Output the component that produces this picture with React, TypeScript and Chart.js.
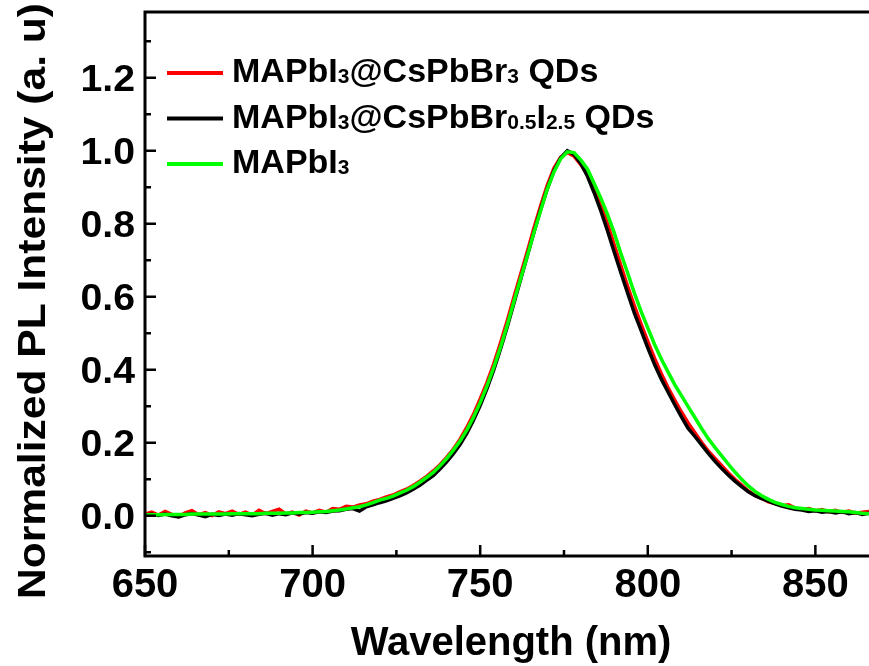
import React, { useEffect, useRef } from "react";
import { Chart, registerables } from "chart.js";

Chart.register(...registerables);

// ---------- data ----------
const wavelengths = [
  650, 652, 654, 656, 658, 660, 662, 664, 666, 668,
  670, 672, 674, 676, 678, 680, 682, 684, 686, 688,
  690, 692, 694, 696, 698, 700, 702, 704, 706, 708,
  710, 712, 714, 716, 718, 720, 722, 724, 726, 728,
  730, 732, 734, 736, 738, 740, 742, 744, 746, 748,
  750, 752, 754, 756, 758, 760, 762, 764, 766, 768,
  770, 772, 774, 776, 778, 780, 782, 784, 786, 788,
  790, 792, 794, 796, 798, 800, 802, 804, 806, 808,
  810, 812, 814, 816, 818, 820, 822, 824, 826, 828,
  830, 832, 834, 836, 838, 840, 842, 844, 846, 848,
  850, 852, 854, 856, 858, 860, 862, 864, 866,
];

const redValues = [
  0.005, 0.010, 0.002, 0.012, 0.004, -0.002, 0.008, 0.014, 0.003, 0.009,
  0.001, 0.011, 0.006, 0.013, 0.004, 0.010, 0.002, 0.015, 0.006, 0.012,
  0.018, 0.005, 0.010, 0.002, 0.013, 0.008, 0.015, 0.010, 0.020, 0.018,
  0.026, 0.024, 0.030, 0.033, 0.040, 0.045, 0.052, 0.057, 0.066, 0.073,
  0.083, 0.095, 0.108, 0.123, 0.140, 0.160, 0.183, 0.210, 0.242, 0.278,
  0.320, 0.365, 0.415, 0.472, 0.532, 0.597, 0.660, 0.722, 0.787, 0.848,
  0.905, 0.952, 0.982, 0.995, 0.985, 0.962, 0.935, 0.895, 0.850, 0.800,
  0.742, 0.685, 0.628, 0.575, 0.525, 0.478, 0.432, 0.390, 0.352, 0.318,
  0.285, 0.255, 0.228, 0.202, 0.178, 0.158, 0.138, 0.118, 0.100, 0.084,
  0.068, 0.056, 0.048, 0.038, 0.034, 0.028, 0.030, 0.021, 0.018, 0.020,
  0.014, 0.017, 0.011, 0.015, 0.009, 0.013, 0.007, 0.010, 0.012,
];

const blackValues = [
  0.002, 0.004, 0.001, 0.005, 0.000, -0.003, 0.003, 0.006, 0.002, -0.002,
  0.004, 0.001, 0.005, 0.002, 0.006, 0.003, 0.000, 0.004, 0.007, 0.002,
  0.006, 0.003, 0.008, 0.005, 0.009, 0.007, 0.011, 0.009, 0.013, 0.014,
  0.018, 0.020, 0.013, 0.025, 0.030, 0.036, 0.041, 0.048, 0.055, 0.063,
  0.073, 0.084, 0.097, 0.110, 0.128, 0.148, 0.170, 0.195, 0.226, 0.262,
  0.302, 0.348, 0.398, 0.455, 0.515, 0.580, 0.645, 0.710, 0.775, 0.838,
  0.895, 0.945, 0.980, 1.000, 0.990, 0.965, 0.930, 0.885, 0.835, 0.780,
  0.722, 0.665, 0.610, 0.555, 0.508, 0.460, 0.415, 0.375, 0.340, 0.305,
  0.272, 0.240, 0.218, 0.195, 0.172, 0.150, 0.130, 0.112, 0.095, 0.080,
  0.066, 0.055, 0.047, 0.040, 0.033, 0.027, 0.022, 0.018, 0.016, 0.012,
  0.014, 0.010, 0.012, 0.008, 0.011, 0.006, 0.009, 0.004, 0.007,
];

const greenValues = [
  0.003, 0.003, 0.003, 0.004, 0.004, 0.004, 0.004, 0.005, 0.005, 0.005,
  0.005, 0.005, 0.005, 0.006, 0.006, 0.006, 0.006, 0.006, 0.007, 0.007,
  0.007, 0.008, 0.008, 0.009, 0.009, 0.010, 0.011, 0.012, 0.014, 0.016,
  0.019, 0.022, 0.025, 0.030, 0.036, 0.043, 0.048, 0.054, 0.062, 0.070,
  0.080, 0.092, 0.105, 0.119, 0.137, 0.157, 0.180, 0.205, 0.235, 0.270,
  0.310, 0.355, 0.405, 0.460, 0.520, 0.585, 0.648, 0.710, 0.775, 0.835,
  0.895, 0.942, 0.978, 0.997, 0.995, 0.975, 0.950, 0.910, 0.870, 0.825,
  0.775, 0.718, 0.665, 0.610, 0.560, 0.515, 0.470, 0.430, 0.395, 0.360,
  0.330, 0.300, 0.270, 0.240, 0.212, 0.188, 0.165, 0.142, 0.120, 0.100,
  0.082, 0.067, 0.055, 0.045, 0.037, 0.031, 0.026, 0.022, 0.020, 0.018,
  0.016, 0.015, 0.014, 0.013, 0.012, 0.011, 0.009, 0.007, 0.006,
];

const xTickLabels = [650, 700, 750, 800, 850];
const xMinorTicks = [675, 725, 775, 825];
const yTickLabels = [0.0, 0.2, 0.4, 0.6, 0.8, 1.0, 1.2];
const yMinorTicks = [-0.1, 0.1, 0.3, 0.5, 0.7, 0.9, 1.1, 1.3];

const xTitle = "Wavelength (nm)";
const yTitle = "Normalized PL Intensity (a. u)";

// legend text pieces: [text, isSubscript]
const legendRed: [string, boolean][] = [["MAPbI", false], ["3", true], ["@CsPbBr", false], ["3", true], [" QDs", false]];
const legendBlack: [string, boolean][] = [["MAPbI", false], ["3", true], ["@CsPbBr", false], ["0.5", true], ["I", false], ["2.5", true], [" QDs", false]];
const legendGreen: [string, boolean][] = [["MAPbI", false], ["3", true]];

const RED = "#ff0000";
const BLACK = "#000000";
const GREEN = "#00ff00";

const FONT = '"Liberation Sans", Arial, Helvetica, sans-serif';

const legendItems = [
  { color: RED, parts: legendRed },
  { color: BLACK, parts: legendBlack },
  { color: GREEN, parts: legendGreen },
];

const decorPlugin = {
  id: "decor",
  afterDatasetsDraw(chart: any) {
    const { ctx, chartArea, scales } = chart;
    const { left, top, right, bottom } = chartArea;
    const xs = scales.x;
    const ys = scales.y;
    ctx.save();
    ctx.strokeStyle = "#000";
    ctx.fillStyle = "#000";
    ctx.lineWidth = 3;
    ctx.lineCap = "butt";

    // frame (left, top, bottom)
    ctx.beginPath();
    ctx.moveTo(right + 2, top);
    ctx.lineTo(left, top);
    ctx.lineTo(left, bottom);
    ctx.lineTo(right + 2, bottom);
    ctx.stroke();

    // ticks
    ctx.lineWidth = 2.5;
    ctx.beginPath();
    xTickLabels.forEach((v) => {
      const px = xs.getPixelForValue(v);
      ctx.moveTo(px, bottom);
      ctx.lineTo(px, bottom - 11);
    });
    xMinorTicks.forEach((v) => {
      const px = xs.getPixelForValue(v);
      ctx.moveTo(px, bottom);
      ctx.lineTo(px, bottom - 6);
    });
    yTickLabels.forEach((v) => {
      const py = ys.getPixelForValue(v);
      ctx.moveTo(left, py);
      ctx.lineTo(left + 11, py);
    });
    yMinorTicks.forEach((v) => {
      const py = ys.getPixelForValue(v);
      ctx.moveTo(left, py);
      ctx.lineTo(left + 6, py);
    });
    ctx.stroke();

    // tick labels
    ctx.font = `bold 40px ${FONT}`;
    ctx.textAlign = "center";
    ctx.textBaseline = "alphabetic";
    xTickLabels.forEach((v) => {
      const px = xs.getPixelForValue(v);
      ctx.fillText(String(v), px, bottom + 41);
    });
    ctx.font = `bold 37px ${FONT}`;
    ctx.textAlign = "right";
    yTickLabels.forEach((v) => {
      const py = ys.getPixelForValue(v);
      ctx.save();
      ctx.translate(left - 10, py + 13);
      ctx.scale(1.06, 1);
      ctx.fillText(v.toFixed(1), 0, 0);
      ctx.restore();
    });

    // axis titles
    ctx.font = `bold 40px ${FONT}`;
    ctx.textAlign = "center";
    ctx.fillText(xTitle, 511, 655);
    ctx.save();
    ctx.translate(45, 301);
    ctx.rotate(-Math.PI / 2);
    ctx.scale(1.12, 1);
    ctx.font = `bold 38px ${FONT}`;
    ctx.textAlign = "center";
    ctx.fillText(yTitle, 0, 0);
    ctx.restore();

    // legend
    legendItems.forEach((item, i) => {
      const ly = 73 + i * 45.5;
      ctx.strokeStyle = item.color;
      ctx.lineWidth = 4;
      ctx.beginPath();
      ctx.moveTo(167, ly);
      ctx.lineTo(223, ly);
      ctx.stroke();
      let tx = 232;
      const base = ly + 9;
      ctx.textAlign = "left";
      ctx.fillStyle = "#000";
      item.parts.forEach(([txt, sub]) => {
        ctx.font = sub ? `bold 21px ${FONT}` : `bold 34px ${FONT}`;
        ctx.fillText(txt, tx, sub ? base + 1 : base);
        tx += ctx.measureText(txt).width;
      });
    });

    ctx.restore();
  },
};

export default function App() {
  const canvasRef = useRef<HTMLCanvasElement | null>(null);

  useEffect(() => {
    const canvas = canvasRef.current;
    if (!canvas) return;
    const mk = (vals: number[]) => wavelengths.map((w, i) => ({ x: w, y: vals[i] }));
    const chart = new Chart(canvas, {
      type: "line",
      data: {
        datasets: [
          { label: "MAPbI3", data: mk(greenValues), borderColor: GREEN, borderWidth: 3.5, pointRadius: 0, tension: 0, order: 0 },
          { label: "MAPbI3@CsPbBr0.5I2.5 QDs", data: mk(blackValues), borderColor: BLACK, borderWidth: 3.5, pointRadius: 0, tension: 0, order: 1 },
          { label: "MAPbI3@CsPbBr3 QDs", data: mk(redValues), borderColor: RED, borderWidth: 3.5, pointRadius: 0, tension: 0, order: 2 },
        ],
      },
      options: {
        animation: false,
        responsive: false,
        devicePixelRatio: 1,
        layout: { padding: { left: 145, top: 12, right: 0, bottom: 110 } },
        plugins: { legend: { display: false }, tooltip: { enabled: false } },
        scales: {
          x: { type: "linear", min: 650, max: 866, display: false },
          y: { type: "linear", min: -0.11, max: 1.38, display: false },
        },
      },
      plugins: [decorPlugin],
    });
    return () => chart.destroy();
  }, []);

  return (
    <div style={{ position: "fixed", left: 0, top: 0, width: 869, height: 666, background: "#fff" }}>
      <canvas ref={canvasRef} width={869} height={666} />
    </div>
  );
}
